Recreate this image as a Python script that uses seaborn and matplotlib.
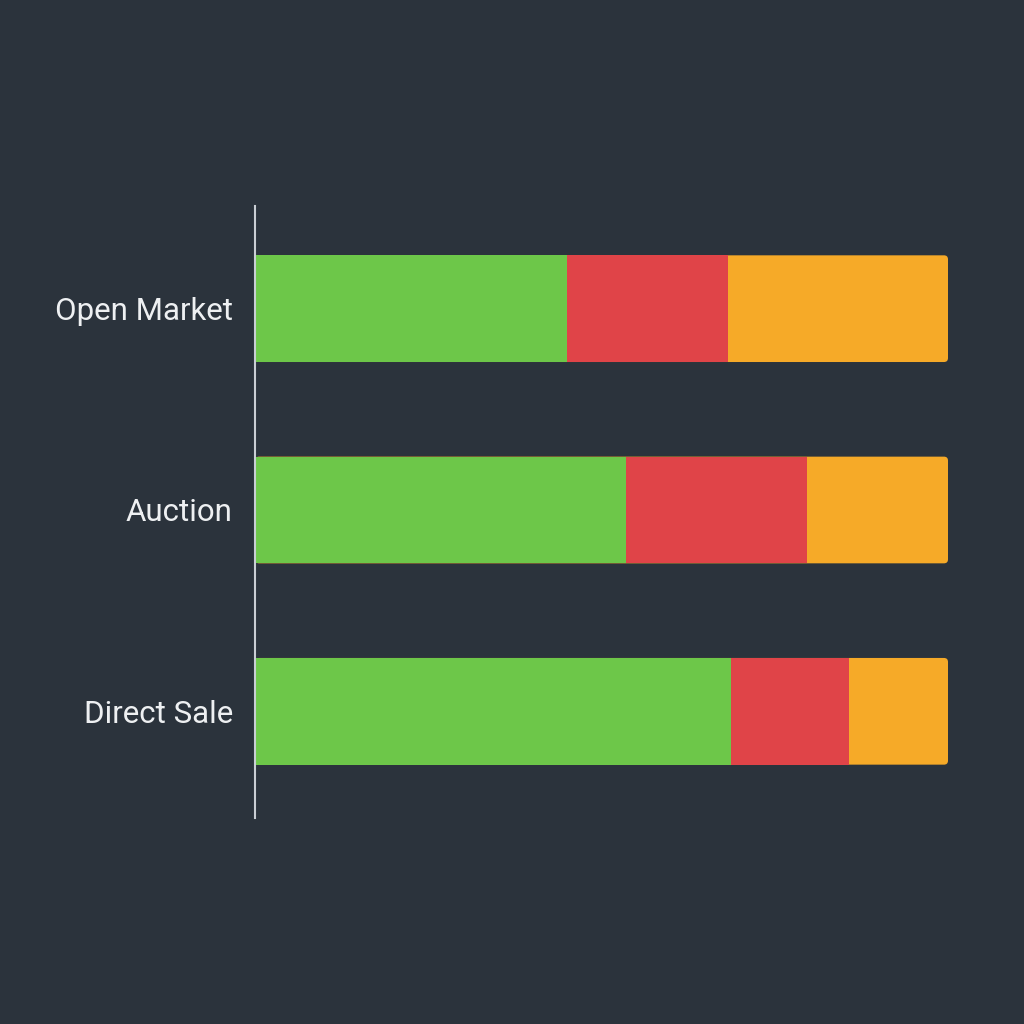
import numpy as np
import pandas as pd
import matplotlib
matplotlib.use("Agg")
import matplotlib.pyplot as plt
from matplotlib.patches import FancyBboxPatch
import seaborn as sns

categories = ["Open Market", "Auction", "Direct Sale"]
seg_green = [45.0, 53.5, 68.7]
seg_red = [23.2, 26.1, 17.0]
seg_orange = [31.8, 20.4, 14.3]

colors = {"green": "#6dc749", "red": "#e04448", "orange": "#f6aa28"}
bg = "#2b333c"

sns.set_theme(style="white")
plt.rcParams["font.family"] = ["Roboto", "DejaVu Sans"]

fig = plt.figure(figsize=(10.24, 10.24), dpi=100, facecolor=bg)
ax = fig.add_axes([255 / 1024, 1 - 818 / 1024, (948 - 255) / 1024, 612 / 1024])
ax.set_facecolor(bg)

g = np.array(seg_green)
r = np.array(seg_red)
o = np.array(seg_orange)
df = pd.DataFrame({
    "cat": categories,
    "c3": g + r + o,
    "c2": g + r,
    "c1": g,
})

sns.barplot(data=df, x="c3", y="cat", color=colors["orange"], width=0.53, ax=ax,
            saturation=1, linewidth=0, orient="h")
orange_patches = list(ax.patches)
for col, c in [("c2", colors["red"]), ("c1", colors["green"])]:
    sns.barplot(data=df, x=col, y="cat", color=c, width=0.53, ax=ax,
                saturation=1, linewidth=0, orient="h")

ax.set_xlim(0, 100)
ax.set_ylim(2.53, -0.51)

# rounded right ends
xpp = 100 / 693.0
ypp = 3.04 / 612.0
rad_px = 4
for p in orange_patches:
    x0, y0 = p.get_x(), p.get_y()
    w, h = p.get_width(), p.get_height()
    p.set_visible(False)
    fb = FancyBboxPatch((x0, y0), w, h,
                        boxstyle=f"round,pad=0,rounding_size={rad_px * xpp}",
                        mutation_aspect=ypp / xpp,
                        facecolor=colors["orange"], edgecolor="none", zorder=p.get_zorder())
    ax.add_patch(fb)
# bring red/green above
for p in ax.patches:
    if p not in orange_patches and not isinstance(p, FancyBboxPatch):
        p.set_zorder(3)

ax.set_xlabel("")
ax.set_ylabel("")
ax.set_xticks([])
for s in ["top", "right", "bottom"]:
    ax.spines[s].set_visible(False)
ax.spines["left"].set_color("#c9ced4")
ax.spines["left"].set_linewidth(1.5)
ax.spines["left"].set_zorder(5)
ax.tick_params(axis="y", length=0, pad=16, labelsize=22.5, labelcolor="#eef0f2")

fig.savefig("out.png", dpi=100, facecolor=bg)
